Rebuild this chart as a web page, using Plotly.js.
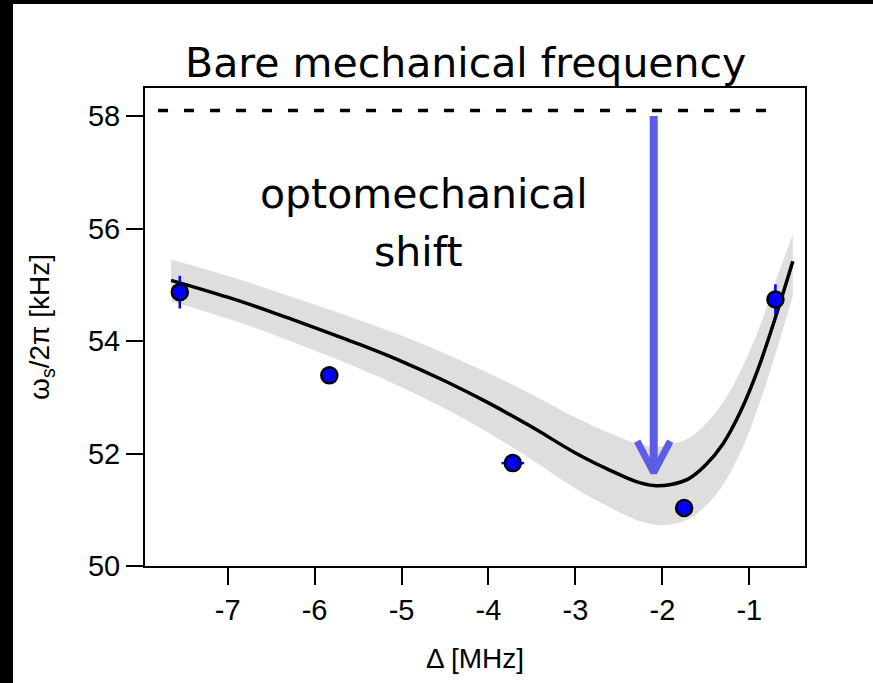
<!DOCTYPE html>
<html>
<head>
<meta charset="utf-8">
<script src="https://cdn.plot.ly/plotly-3.0.1.min.js"></script>
<style>
  html, body { margin: 0; padding: 0; background: #000; width: 873px; height: 683px; overflow: hidden; }
  #chart { position: absolute; left: 13px; top: 4px; width: 860px; height: 679px; background: #fff; }
</style>
</head>
<body>
<div id="chart"></div>
<script>
// Measured data points
const detuning = [-7.55, -5.83, -3.72, -1.75, -0.70];
const freq = [54.87, 53.39, 51.83, 51.03, 54.74];
const freqErr = [0.29, 0.15, 0.10, 0.10, 0.27];
const detErr = [0.10, 0.06, 0.13, 0.05, 0.06];

// Fit curve and confidence band
const fitX = [-7.65, -7.0, -6.5, -6.0, -5.5, -5.0, -4.5, -4.0, -3.5, -3.0, -2.6, -2.3, -2.1, -1.9, -1.7, -1.5, -1.3, -1.1, -0.9, -0.7, -0.5];
const fitY = [55.08, 54.78, 54.52, 54.24, 53.95, 53.64, 53.29, 52.90, 52.47, 52.01, 51.70, 51.50, 51.43, 51.45, 51.55, 51.80, 52.18, 52.75, 53.50, 54.42, 55.42];
const bandUpper = [55.45, 55.16, 54.91, 54.65, 54.38, 54.10, 53.78, 53.43, 53.05, 52.64, 52.36, 52.18, 52.12, 52.16, 52.27, 52.53, 52.91, 53.47, 54.18, 55.05, 55.90];
const bandLower = [54.71, 54.40, 54.13, 53.83, 53.52, 53.18, 52.80, 52.37, 51.89, 51.38, 51.04, 50.82, 50.74, 50.74, 50.83, 51.07, 51.45, 52.03, 52.82, 53.77, 54.80];

// Bare mechanical frequency reference line
const bareX = [-7.8, -0.66];
const bareY = [58.1, 58.1];

// Optomechanical shift arrow
const arrowX = [-2.1, -2.1];
const arrowY = [58.0, 51.75];
const headX = [-2.29, -2.1, -1.91];
const headY = [52.22, 51.66, 52.22];

const xTicks = [-7, -6, -5, -4, -3, -2, -1];
const yTicks = [50, 52, 54, 56, 58];

const arrowColor = 'rgb(92,92,230)';

const traces = [
  { x: fitX, y: bandLower, mode: 'lines', line: { width: 0, shape: 'spline', color: 'rgba(0,0,0,0)' }, hoverinfo: 'skip', showlegend: false },
  { x: fitX, y: bandUpper, mode: 'lines', fill: 'tonexty', fillcolor: 'rgb(222,222,222)', line: { width: 0, shape: 'spline', color: 'rgba(0,0,0,0)' }, hoverinfo: 'skip', showlegend: false },
  { x: fitX, y: fitY, mode: 'lines', line: { color: '#000', width: 3.5, shape: 'spline' }, showlegend: false },
  { x: bareX, y: bareY, mode: 'lines', line: { color: '#000', width: 3.5, dash: '10px,16px' }, showlegend: false },
  { x: arrowX, y: arrowY, mode: 'lines', line: { color: arrowColor, width: 8 }, showlegend: false },
  { x: headX, y: headY, mode: 'lines', line: { color: arrowColor, width: 7 }, showlegend: false },
  { x: detuning, y: freq, mode: 'markers',
    marker: { color: '#0000ff', size: 16, line: { color: '#000', width: 2.5 } },
    error_y: { type: 'data', array: freqErr, visible: true, color: '#0000ff', thickness: 2.5, width: 0 },
    error_x: { type: 'data', array: detErr, visible: true, color: '#0000ff', thickness: 2.5, width: 0 },
    showlegend: false }
];

const tickFont = { family: 'Liberation Sans, Arial, sans-serif', size: 29, color: '#000' };
const labelFont = { family: 'DejaVu Sans, sans-serif', size: 41, color: '#000' };
const axisTitleFont = { family: 'Liberation Sans, Arial, sans-serif', size: 28, color: '#000' };

const layout = {
  width: 860, height: 679,
  margin: { l: 132, r: 68, t: 84, b: 117 },
  paper_bgcolor: '#fff', plot_bgcolor: '#fff',
  showlegend: false,
  xaxis: {
    range: [-7.95, -0.36], tickvals: xTicks, ticktext: xTicks.map(String),
    ticks: 'outside', ticklen: 17, tickwidth: 2, tickcolor: '#000',
    showline: true, linecolor: '#000', linewidth: 2, mirror: true,
    showgrid: false, zeroline: false, tickfont: tickFont,
    title: { text: 'Δ [MHz]', font: axisTitleFont, standoff: 24 }
  },
  yaxis: {
    range: [50, 58.5], tickvals: yTicks, ticktext: yTicks.map(String),
    ticks: 'outside', ticklen: 17, tickwidth: 2, tickcolor: '#000',
    showline: true, linecolor: '#000', linewidth: 2, mirror: true,
    showgrid: false, zeroline: false, tickfont: tickFont,
    title: { text: 'ω<sub>s</sub>/2π [kHz]', font: axisTitleFont, standoff: 30 }
  },
  annotations: [
    { xref: 'x', yref: 'paper', x: -4.27, y: 1.0525, text: 'Bare mechanical frequency', showarrow: false, font: labelFont, xanchor: 'center', yanchor: 'middle' },
    { xref: 'x', yref: 'y', x: -4.74, y: 56.61, text: 'optomechanical', showarrow: false, font: labelFont, xanchor: 'center', yanchor: 'middle' },
    { xref: 'x', yref: 'y', x: -4.80, y: 55.59, text: 'shift', showarrow: false, font: labelFont, xanchor: 'center', yanchor: 'middle' }
  ]
};

Plotly.newPlot('chart', traces, layout, { displayModeBar: false, staticPlot: true });
</script>
</body>
</html>
